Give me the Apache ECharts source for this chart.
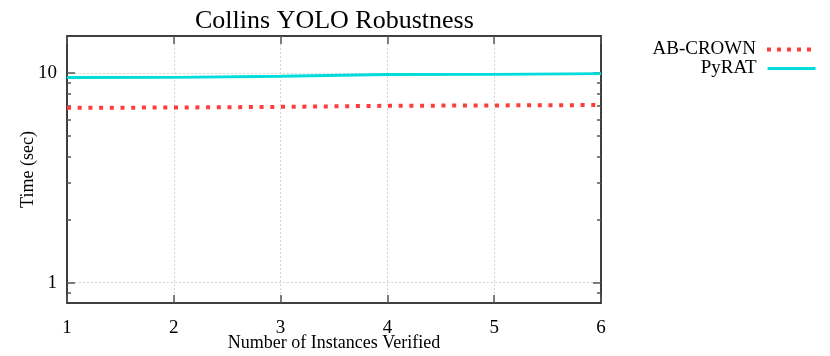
<!DOCTYPE html>
<html>
<head>
<meta charset="utf-8">
<script src="https://cdn.jsdelivr.net/npm/echarts@6/dist/echarts.min.js"></script>
<style>
  html, body { margin: 0; padding: 0; background: #fff; }
  #chart { width: 830px; height: 356px; }
</style>
</head>
<body>
<div id="chart"></div>
<script>
// data
var instances = [1, 2, 3, 4, 5, 6];
var abCrown = [6.82, 6.84, 6.89, 6.97, 7.0, 7.03];
var pyrat = [9.51, 9.53, 9.64, 9.83, 9.84, 9.93];
var xTicks = [1, 2, 3, 4, 5, 6];
var yMajor = [1, 10];
var yMinor = [0.9, 2, 3, 4, 5, 6, 7, 8, 9];

var FONT = "'Liberation Serif', 'DejaVu Serif', serif";
var RED = '#ff3b3b';
var CYAN = '#00dcdc';

function pairs(ys) {
  return instances.map(function (x, i) { return [x, ys[i]]; });
}

// one y axis (left or right, major or minor ticks)
function yAx(pos, ticks, len, withLabels) {
  return {
    type: 'log', logBase: 10, min: 0.8, max: 15, position: pos,
    axisLine: { show: withLabels, lineStyle: { color: '#000', width: 1.5 } },
    axisTick: { show: true, inside: true, length: len, customValues: ticks, lineStyle: { color: '#555', width: 1.5 } },
    axisLabel: withLabels && pos === 'left'
      ? { show: true, customValues: yMajor, margin: 10, color: '#000', fontFamily: FONT, fontSize: 19 }
      : { show: false },
    splitLine: withLabels && pos === 'left'
      ? { show: true, lineStyle: { color: '#d4d4d4', type: [2, 2], width: 1 } }
      : { show: false },
    minorTick: { show: false }
  };
}

function legendFor(name, top, lineStyle) {
  return {
    data: [name], right: 8, top: top, align: 'right',
    itemWidth: 48, itemHeight: 14,
    itemStyle: { opacity: 0 },
    lineStyle: lineStyle,
    textStyle: { fontFamily: FONT, fontSize: 19, color: '#000', padding: [0, 6, 0, 0] }
  };
}

var chart = echarts.init(document.getElementById('chart'));
chart.setOption({
  backgroundColor: '#fff',
  animation: false,
  title: {
    text: 'Collins YOLO Robustness',
    left: 190, top: 3,
    textStyle: { fontFamily: FONT, fontSize: 26, fontWeight: 'normal', color: '#000' }
  },
  legend: [
    legendFor('AB-CROWN', 35, { color: RED, width: 4, type: [4, 6] }),
    legendFor('PyRAT', 54, { color: CYAN, width: 2.8, type: 'solid' })
  ],
  grid: { left: 67, right: 229, top: 36, bottom: 53, outerBoundsMode: 'none', containLabel: false },
  xAxis: [
    {
      type: 'value', min: 1, max: 6, interval: 1, position: 'bottom',
      name: 'Number of Instances Verified', nameLocation: 'middle', nameGap: 31,
      nameMoveOverlap: false,
      nameTextStyle: { fontFamily: FONT, fontSize: 18, color: '#000' },
      axisLine: { lineStyle: { color: '#000', width: 1.5 } },
      axisTick: { inside: true, length: 8, lineStyle: { color: '#555', width: 1.5 } },
      axisLabel: { margin: 16, color: '#000', fontFamily: FONT, fontSize: 19 },
      splitLine: { show: true, lineStyle: { color: '#d4d4d4', type: [2, 2], width: 1 } }
    },
    {
      type: 'value', min: 1, max: 6, interval: 1, position: 'top',
      axisLine: { show: true, lineStyle: { color: '#000', width: 1.5 } },
      axisTick: { inside: true, length: 8, lineStyle: { color: '#555', width: 1.5 } },
      axisLabel: { show: false },
      splitLine: { show: false }
    }
  ],
  yAxis: [
    Object.assign(yAx('left', yMajor, 8, true), {
      name: 'Time (sec)', nameLocation: 'middle', nameGap: 30,
      nameMoveOverlap: false,
      nameTextStyle: { fontFamily: FONT, fontSize: 18, color: '#000' }
    }),
    yAx('left', yMinor, 4, false),
    yAx('right', yMajor, 8, true),
    yAx('right', yMinor, 4, false)
  ],
  series: [
    {
      name: 'AB-CROWN', type: 'line', xAxisIndex: 0, yAxisIndex: 0,
      data: pairs(abCrown), symbol: 'none',
      lineStyle: { color: RED, width: 4, type: [4, 6.7] },
      itemStyle: { color: RED }
    },
    {
      name: 'PyRAT', type: 'line', xAxisIndex: 0, yAxisIndex: 0,
      data: pairs(pyrat), symbol: 'none',
      lineStyle: { color: CYAN, width: 2.8 },
      itemStyle: { color: CYAN }
    }
  ]
});
</script>
</body>
</html>
